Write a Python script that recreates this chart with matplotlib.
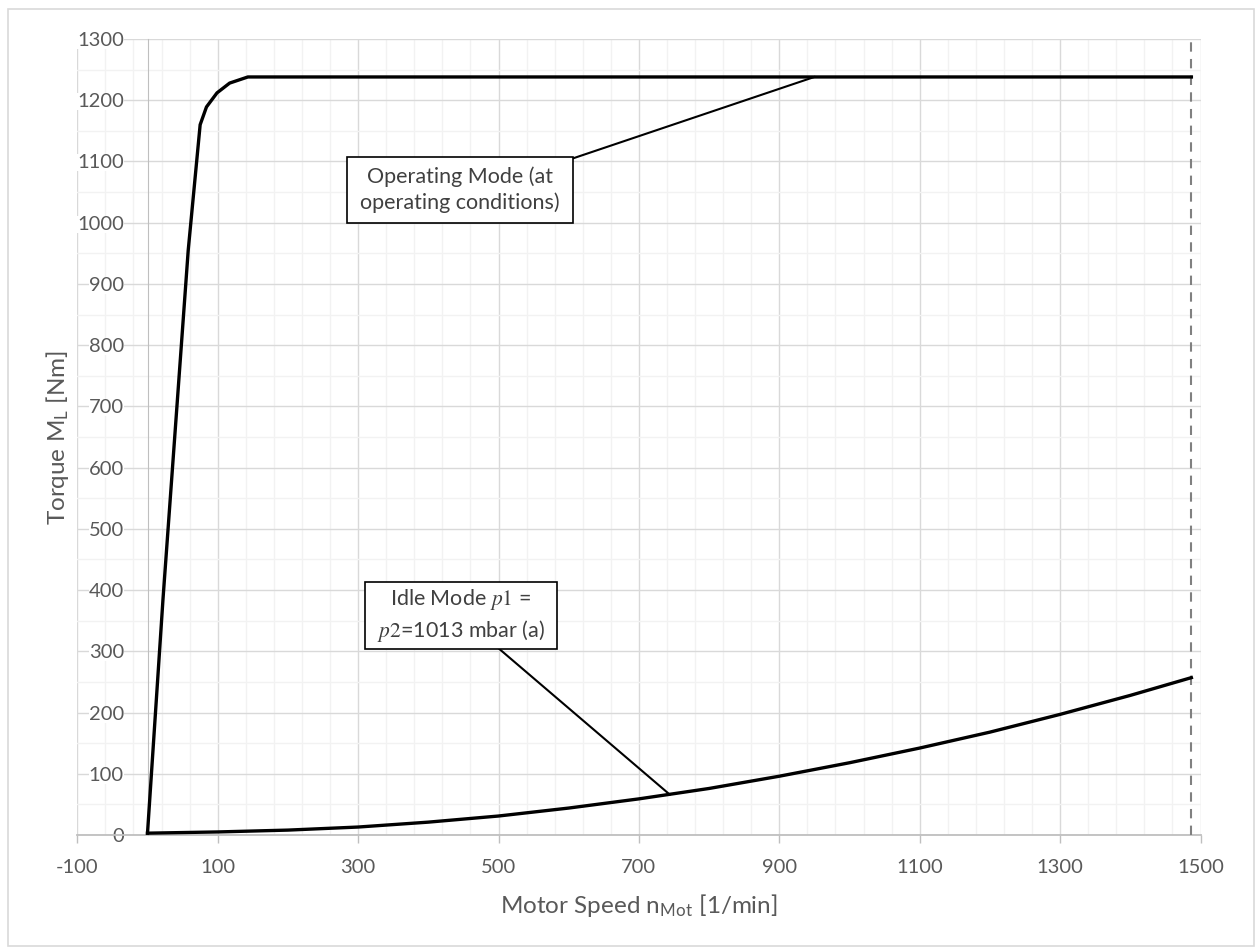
import numpy as np
import matplotlib
matplotlib.use("Agg")
import matplotlib.pyplot as plt
from matplotlib.patches import Rectangle
from matplotlib.ticker import FixedLocator, MultipleLocator

plt.rcParams['font.family'] = ['Lato', 'DejaVu Sans']
plt.rcParams['mathtext.fontset'] = 'stix'
plt.rcParams['axes.unicode_minus'] = False

# operating mode curve
operating_speed = [0, 22, 58, 75, 84, 99, 117, 143, 1487]
operating_torque = [3, 384, 955, 1160, 1189, 1212, 1228, 1238, 1238]

# idle mode curve, p1 = p2 = 1013 mbar (a)
idle_speed = [0, 100, 200, 300, 400, 500, 600, 700, 800, 900, 1000, 1100, 1200, 1300, 1400, 1487]
idle_torque = [3, 5, 8, 13, 21, 31, 44, 59, 76, 96, 118, 142, 168, 197, 228, 257]

# rated speed marker
max_speed = 1487

x_ticks = np.arange(-100, 1501, 200)
x_minor = np.arange(-100, 1501, 40)
y_ticks = np.arange(0, 1301, 100)

# annotation boxes (data coords): left, bottom, width, height
operating_box = (284, 1000, 322, 107)
operating_text = "Operating Mode (at\noperating conditions)"
operating_leader = ((606, 1105), (950, 1238))

idle_box = (310, 304, 273, 109)
idle_text = "Idle Mode $p1$ =\n$p2$=1013 mbar (a)"
idle_leader = ((501, 304), (744, 66))

grey_text = '#595959'

fig = plt.figure(figsize=(12.55, 9.47), dpi=100)
ax = fig.add_axes([77.3 / 1255, 112 / 947, 1123.2 / 1255, 796 / 947])

# outer chart border
fig.patches.append(Rectangle((7.5 / 1255, 1 / 947), 1246.5 / 1255, 936.5 / 947,
                             transform=fig.transFigure, fill=False, ec='#D9D9D9', lw=1.2))

ax.set_xlim(-100, 1500)
ax.set_ylim(0, 1300)
ax.set_xticks(x_ticks)
ax.xaxis.set_minor_locator(FixedLocator(x_minor))
ax.set_yticks(y_ticks)
ax.yaxis.set_minor_locator(MultipleLocator(50))

ax.set_axisbelow(True)
ax.grid(which='major', color='#D9D9D9', lw=1.0)
ax.grid(which='minor', color='#F2F2F2', lw=1.0)

for side in ['top', 'right']:
    ax.spines[side].set_visible(False)
ax.spines['left'].set_position(('data', 0))
ax.spines['left'].set_color('#BFBFBF')
ax.spines['bottom'].set_color('#BFBFBF')
ax.spines['bottom'].set_linewidth(1.3)

ax.tick_params(axis='x', which='major', length=5.8, width=1, color='#BFBFBF',
               labelsize=14.5, labelcolor=grey_text, pad=11.5)
ax.tick_params(axis='x', which='minor', length=0)
ax.tick_params(axis='y', which='both', length=0, labelsize=14.5, labelcolor=grey_text, pad=17)
for lbl in ax.get_yticklabels():
    lbl.set_bbox(dict(fc='white', ec='none', pad=0))

ax.set_xlabel(r'Motor Speed n$_\mathregular{Mot}$ [1/min]', fontsize=17.5, color=grey_text, va='center')
ax.xaxis.set_label_coords(0.5, -0.088)
ax.set_ylabel(r'Torque M$_\mathregular{L}$ [Nm]', fontsize=17.5, color=grey_text, va='center')
ax.yaxis.set_label_coords(-0.0172, 0.5)

ax.vlines(max_speed, 0, 1300, colors='#808080', lw=1.5, linestyles=(0, (4.5, 3.5)), zorder=3)

ax.plot(operating_speed, operating_torque, color='black', lw=2.4, solid_joinstyle='round', zorder=4)
ax.plot(idle_speed, idle_torque, color='black', lw=2.4, solid_joinstyle='round', zorder=4)

for box, text, leader in [(operating_box, operating_text, operating_leader),
                          (idle_box, idle_text, idle_leader)]:
    (x0, y0), (x1, y1) = leader
    ax.plot([x0, x1], [y0, y1], color='black', lw=1.5, zorder=4)
    left, bottom, width, height = box
    ax.add_patch(Rectangle((left, bottom), width, height, fc='white', ec='black', lw=1.2, zorder=5))
    ax.text(left + width / 2, bottom + height / 2, text, ha='center', va='center',
            fontsize=15.5, color='#404040', linespacing=1.35, zorder=6)

fig.savefig('out.png', dpi=100)
